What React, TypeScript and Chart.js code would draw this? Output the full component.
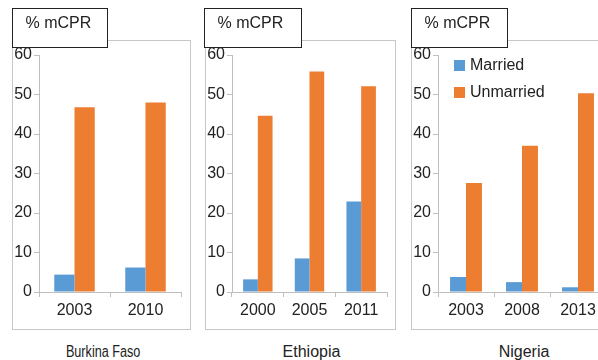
import React, { useEffect, useRef } from "react";
import { Chart, registerables } from "chart.js";

Chart.register(...registerables);

const seriesNames = ["Married", "Unmarried"];
const axisTitle = "% mCPR";

const burkinaYears = ["2003", "2010"];
const burkinaMarried = [4.4, 6.2];
const burkinaUnmarried = [46.8, 48.0];

const ethiopiaYears = ["2000", "2005", "2011"];
const ethiopiaMarried = [3.2, 8.5, 22.9];
const ethiopiaUnmarried = [44.6, 55.8, 52.1];

const nigeriaYears = ["2003", "2008", "2013"];
const nigeriaMarried = [3.8, 2.5, 1.2];
const nigeriaUnmarried = [27.6, 37.0, 50.3];

const yMin = 0;
const yMax = 60;
const yStep = 10;

const FONT = "'Liberation Sans', Arial, Helvetica, sans-serif";
const AXIS = "#bfbfbf";
const FRAME = "#c8c8c8";
const TXT = "#222222";
const BLUE = "#5b9bd5";
const ORANGE = "#ed7d31";

type PanelProps = {
  labels: string[];
  married: number[];
  unmarried: number[];
  left: number;
  width: number;
  padRight: number;
  legend?: boolean;
};

function PanelChart({ labels, married, unmarried, left, width, padRight, legend }: PanelProps) {
  const ref = useRef<HTMLCanvasElement | null>(null);
  useEffect(() => {
    if (!ref.current) return;
    const legendPlugin = {
      id: "cornerLegend",
      afterDraw(chart: any) {
        if (!legend) return;
        const ctx = chart.ctx;
        ctx.save();
        chart.data.datasets.forEach((ds: any, i: number) => {
          const y = 20 + i * 27;
          ctx.fillStyle = ds.backgroundColor;
          ctx.fillRect(43, y, 11, 11);
          ctx.fillStyle = TXT;
          ctx.font = "16px " + FONT;
          ctx.textBaseline = "middle";
          ctx.textAlign = "left";
          ctx.fillText(ds.label, 59, y + 6);
        });
        ctx.restore();
      },
    };
    const chart = new Chart(ref.current, {
      type: "bar",
      data: {
        labels,
        datasets: [
          { label: seriesNames[0], data: married, backgroundColor: BLUE },
          { label: seriesNames[1], data: unmarried, backgroundColor: ORANGE },
        ],
      },
      options: {
        responsive: false,
        maintainAspectRatio: false,
        animation: false,
        layout: { padding: { top: 15, right: padRight, bottom: 0, left: 0 } },
        plugins: { legend: { display: false }, tooltip: { enabled: false } },
        datasets: { bar: { categoryPercentage: 0.57, barPercentage: 1 } },
        scales: {
          x: {
            grid: { display: true, drawOnChartArea: false, offset: true, tickLength: 5, color: AXIS },
            border: { display: true, color: AXIS },
            ticks: { color: TXT, font: { size: 16, family: FONT }, padding: 4, maxRotation: 0 },
            afterFit: (s: any) => {
              s.height = 38;
            },
          },
          y: {
            min: yMin,
            max: yMax,
            grid: { display: true, drawOnChartArea: false, tickLength: 5, color: AXIS },
            border: { display: true, color: AXIS },
            ticks: { stepSize: yStep, color: TXT, font: { size: 16, family: FONT }, padding: 2 },
            afterFit: (s: any) => {
              s.width = 27;
            },
          },
        },
      },
      plugins: [legendPlugin],
    } as any);
    return () => chart.destroy();
  }, []);
  return (
    <canvas
      ref={ref}
      width={width}
      height={290}
      style={{ position: "absolute", left, top: 40, width, height: 290 }}
    />
  );
}

function Frame({ left, width }: { left: number; width: number }) {
  return (
    <div
      style={{
        position: "absolute",
        left,
        top: 40,
        width,
        height: 290,
        boxSizing: "border-box",
        border: `1px solid ${FRAME}`,
      }}
    />
  );
}

function LabelBox({ left, width }: { left: number; width: number }) {
  return (
    <div
      style={{
        position: "absolute",
        left,
        top: 8,
        width,
        height: 40,
        boxSizing: "border-box",
        border: "1.5px solid #222",
        background: "#fff",
      }}
    >
      <div
        style={{
          position: "absolute",
          left: 12.5,
          top: 5,
          fontSize: 16,
          fontFamily: FONT,
          color: TXT,
          whiteSpace: "nowrap",
        }}
      >
        {axisTitle}
      </div>
    </div>
  );
}

function Country({ name, center, scale }: { name: string; center: number; scale?: number }) {
  return (
    <div
      style={{
        position: "absolute",
        left: center - 100,
        width: 200,
        top: 343,
        textAlign: "center",
        fontSize: 16,
        fontFamily: FONT,
        color: TXT,
        whiteSpace: "nowrap",
      }}
    >
      <span style={{ display: "inline-block", transform: `scaleX(${scale ?? 1})` }}>{name}</span>
    </div>
  );
}

export default function App() {
  return (
    <div
      style={{
        position: "absolute",
        left: 0,
        top: 0,
        width: 598,
        height: 360,
        overflow: "hidden",
        background: "#fff",
      }}
    >
      <Frame left={12} width={179} />
      <Frame left={205} width={191} />
      <Frame left={411} width={220} />
      <PanelChart labels={burkinaYears} married={burkinaMarried} unmarried={burkinaUnmarried} left={12} width={179} padRight={10} />
      <PanelChart labels={ethiopiaYears} married={ethiopiaMarried} unmarried={ethiopiaUnmarried} left={205} width={191} padRight={9} />
      <PanelChart labels={nigeriaYears} married={nigeriaMarried} unmarried={nigeriaUnmarried} left={411} width={207} padRight={12} legend />
      <LabelBox left={12} width={96} />
      <LabelBox left={204} width={98} />
      <LabelBox left={411} width={97} />
      <Country name="Burkina Faso" center={103} scale={0.79} />
      <Country name="Ethiopia" center={311.5} />
      <Country name="Nigeria" center={524} />
    </div>
  );
}
